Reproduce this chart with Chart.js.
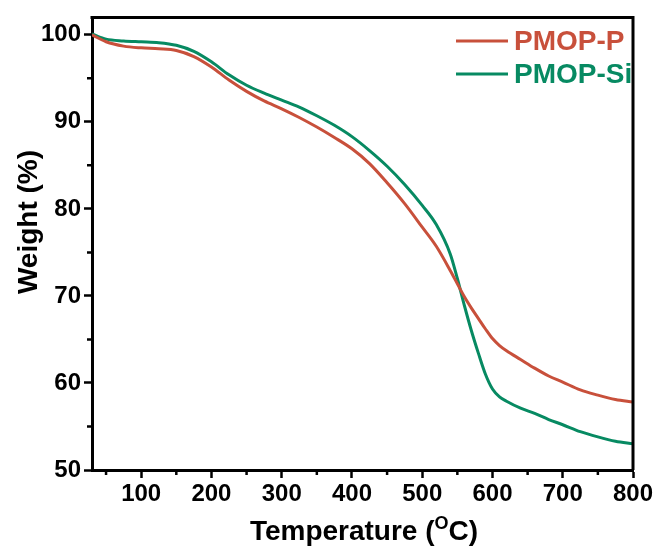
<!DOCTYPE html>
<html>
<head>
<meta charset="utf-8">
<script src="https://cdn.jsdelivr.net/npm/chart.js@4/dist/chart.umd.min.js"></script>
<style>
  html, body { margin: 0; padding: 0; background: #fff; }
  #wrap { width: 659px; height: 549px; }
</style>
</head>
<body>
<div id="wrap"><canvas id="tgaChart" width="659" height="549"></canvas></div>
<script>
// temperatures (°C)
const temps = [30, 50, 75, 100, 125, 150, 175, 200, 225, 250, 275, 300, 325, 350, 375, 400,
  425, 450, 475, 500, 520, 540, 550, 560, 570, 580, 590, 600, 610, 620, 640, 660, 680, 700,
  725, 750, 775, 800];

// weight (%) for each sample
const weightP = [100.0, 99.2, 98.7, 98.5, 98.4, 98.2, 97.5, 96.3, 94.8, 93.5, 92.4, 91.5,
  90.5, 89.4, 88.2, 86.9, 85.2, 83.0, 80.6, 77.9, 75.7, 72.9, 71.4, 69.9, 68.6, 67.4,
  66.2, 65.1, 64.3, 63.7, 62.7, 61.7, 60.8, 60.1, 59.2, 58.6, 58.1, 57.8];
const weightSi = [100.1, 99.5, 99.3, 99.2, 99.1, 98.8, 98.1, 96.9, 95.4, 94.2, 93.3, 92.5,
  91.7, 90.7, 89.6, 88.3, 86.7, 84.9, 82.8, 80.4, 78.2, 74.8, 72.0, 68.9, 66.0, 63.4,
  61.0, 59.3, 58.4, 57.9, 57.1, 56.5, 55.8, 55.2, 54.4, 53.8, 53.3, 53.0];

const seriesNames = ["PMOP-P", "PMOP-Si"];
const seriesColors = ["#c8503b", "#078a62"];

const xTicks = [100, 200, 300, 400, 500, 600, 700, 800];
const xMinorTicks = [50, 150, 250, 350, 450, 550, 650, 750];
const yTicks = [50, 60, 70, 80, 90, 100];
const yMinorTicks = [55, 65, 75, 85, 95];

const FONT = "'Liberation Sans', Arial, sans-serif";

function toPoints(ys) {
  return temps.map((t, i) => ({ x: t, y: ys[i] }));
}

// frame, minor ticks, legend and the axis titles
const extras = {
  id: "extras",
  afterDraw(chart) {
    const ctx = chart.ctx;
    const a = chart.chartArea;
    const xs = chart.scales.x;
    const ys = chart.scales.y;
    ctx.save();

    // top and right border
    ctx.strokeStyle = "#000";
    ctx.lineWidth = 3;
    ctx.beginPath();
    ctx.moveTo(a.left - 1.5, a.top);
    ctx.lineTo(a.right, a.top);
    ctx.lineTo(a.right, a.bottom);
    ctx.stroke();

    // minor ticks
    ctx.lineWidth = 2.5;
    ctx.beginPath();
    xMinorTicks.forEach(v => {
      const px = xs.getPixelForValue(v);
      ctx.moveTo(px, a.bottom);
      ctx.lineTo(px, a.bottom + 5);
    });
    yMinorTicks.forEach(v => {
      const py = ys.getPixelForValue(v);
      ctx.moveTo(a.left, py);
      ctx.lineTo(a.left - 5, py);
    });
    ctx.stroke();

    // legend
    ctx.font = "bold 28px " + FONT;
    ctx.textBaseline = "middle";
    ctx.textAlign = "left";
    const legendY = [41, 74];
    seriesNames.forEach((name, i) => {
      ctx.strokeStyle = seriesColors[i];
      ctx.lineWidth = 3;
      ctx.beginPath();
      ctx.moveTo(456, legendY[i]);
      ctx.lineTo(508, legendY[i]);
      ctx.stroke();
      ctx.fillStyle = seriesColors[i];
      ctx.fillText(name, 514, legendY[i] + 1);
    });

    // y title
    ctx.fillStyle = "#000";
    ctx.font = "bold 28px " + FONT;
    ctx.save();
    ctx.translate(29, 222);
    ctx.rotate(-Math.PI / 2);
    ctx.textAlign = "center";
    ctx.textBaseline = "middle";
    ctx.fillText("Weight (%)", 0, 0);
    ctx.restore();

    // x title with superscript O
    ctx.textBaseline = "alphabetic";
    ctx.textAlign = "left";
    const big = "bold 28px " + FONT;
    const small = "bold 18px " + FONT;
    const parts = [["Temperature (", big, 0], ["O", small, -11], ["C)", big, 0]];
    let total = 0;
    parts.forEach(p => { ctx.font = p[1]; total += ctx.measureText(p[0]).width; });
    let x = 364 - total / 2;
    parts.forEach(p => {
      ctx.font = p[1];
      ctx.fillText(p[0], x, 540 + p[2]);
      x += ctx.measureText(p[0]).width;
    });

    ctx.restore();
  }
};

const ctx = document.getElementById("tgaChart").getContext("2d");
new Chart(ctx, {
  type: "line",
  data: {
    datasets: [
      { label: seriesNames[0], data: toPoints(weightP), borderColor: seriesColors[0] },
      { label: seriesNames[1], data: toPoints(weightSi), borderColor: seriesColors[1] }
    ]
  },
  options: {
    responsive: false,
    animation: false,
    layout: { padding: { top: 16, right: 26, left: 0, bottom: 0 } },
    elements: {
      line: { borderWidth: 3, tension: 0.4, cubicInterpolationMode: "monotone", fill: false },
      point: { radius: 0 }
    },
    plugins: { legend: { display: false }, tooltip: { enabled: false } },
    scales: {
      x: {
        type: "linear",
        min: 30,
        max: 800,
        afterBuildTicks: s => { s.ticks = xTicks.map(v => ({ value: v })); },
        afterFit: s => { s.height = 79; },
        grid: { drawOnChartArea: false, tickLength: 8, tickWidth: 2.5, tickColor: "#000" },
        border: { color: "#000", width: 3 },
        ticks: { color: "#000", padding: 2, maxRotation: 0, font: { family: FONT, size: 24, weight: "bold" } }
      },
      y: {
        min: 50,
        max: 102,
        afterBuildTicks: s => { s.ticks = yTicks.map(v => ({ value: v })); },
        afterFit: s => { s.width = 92; },
        grid: { drawOnChartArea: false, tickLength: 8, tickWidth: 2.5, tickColor: "#000" },
        border: { color: "#000", width: 3 },
        ticks: { color: "#000", padding: 3, font: { family: FONT, size: 24, weight: "bold" } }
      }
    }
  },
  plugins: [extras]
});
</script>
</body>
</html>
